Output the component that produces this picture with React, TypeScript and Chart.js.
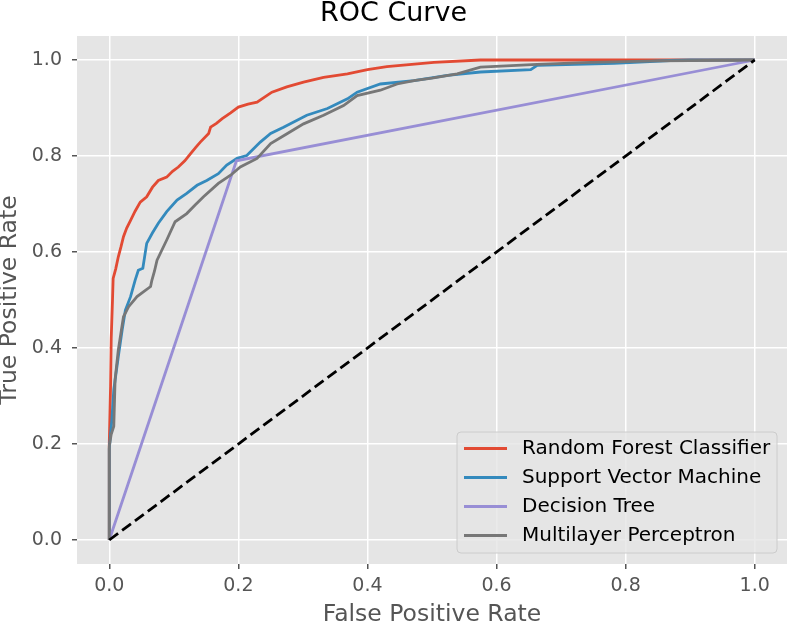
import React, { useEffect, useRef } from "react";
import { Chart, registerables } from "chart.js";

Chart.register(...registerables);

const tickValues = [0, 0.2, 0.4, 0.6, 0.8, 1.0];

const seriesNames = [
  "Random Forest Classifier",
  "Support Vector Machine",
  "Decision Tree",
  "Multilayer Perceptron",
];
const seriesColors = ["#E24A33", "#348ABD", "#988ED5", "#777777"];

const rfFpr = [0, 0, 0.002, 0.003, 0.005, 0.006, 0.01, 0.014, 0.018, 0.022, 0.027, 0.033, 0.04, 0.048, 0.058, 0.067, 0.076, 0.089, 0.098, 0.107, 0.117, 0.126, 0.134, 0.141, 0.154, 0.157, 0.166, 0.175, 0.188, 0.2, 0.215, 0.229, 0.24, 0.252, 0.275, 0.301, 0.332, 0.369, 0.4, 0.43, 0.503, 0.575, 1.0];
const rfTpr = [0, 0.2, 0.32, 0.42, 0.5, 0.545, 0.565, 0.59, 0.61, 0.632, 0.65, 0.666, 0.685, 0.704, 0.715, 0.735, 0.749, 0.756, 0.768, 0.777, 0.79, 0.805, 0.818, 0.829, 0.847, 0.86, 0.868, 0.878, 0.89, 0.902, 0.908, 0.912, 0.922, 0.933, 0.944, 0.954, 0.964, 0.971, 0.98, 0.986, 0.995, 1.0, 1.0];

const svmFpr = [0, 0, 0.004, 0.007, 0.014, 0.02, 0.025, 0.033, 0.04, 0.045, 0.052, 0.058, 0.067, 0.076, 0.089, 0.105, 0.12, 0.136, 0.151, 0.169, 0.182, 0.198, 0.213, 0.234, 0.25, 0.27, 0.306, 0.338, 0.369, 0.384, 0.42, 0.472, 0.524, 0.575, 0.653, 0.663, 0.782, 0.869, 0.9, 1.0];
const svmTpr = [0, 0.19, 0.25, 0.313, 0.382, 0.438, 0.479, 0.507, 0.541, 0.562, 0.566, 0.618, 0.64, 0.66, 0.684, 0.708, 0.722, 0.739, 0.749, 0.763, 0.781, 0.795, 0.801, 0.829, 0.847, 0.86, 0.885, 0.899, 0.919, 0.933, 0.95, 0.957, 0.968, 0.975, 0.98, 0.989, 0.993, 0.999, 1.0, 1.0];

const dtFpr = [0, 0.197, 1.0];
const dtTpr = [0, 0.79, 1.0];

const mlpFpr = [0, 0, 0.003, 0.007, 0.009, 0.014, 0.022, 0.03, 0.043, 0.064, 0.066, 0.07, 0.074, 0.089, 0.102, 0.12, 0.133, 0.146, 0.169, 0.188, 0.203, 0.229, 0.25, 0.276, 0.301, 0.332, 0.363, 0.384, 0.42, 0.446, 0.472, 0.5, 0.539, 0.575, 0.663, 0.746, 0.85, 1.0];
const mlpTpr = [0, 0.195, 0.22, 0.237, 0.334, 0.396, 0.465, 0.486, 0.507, 0.528, 0.541, 0.56, 0.583, 0.625, 0.663, 0.68, 0.698, 0.715, 0.743, 0.76, 0.777, 0.795, 0.826, 0.847, 0.867, 0.885, 0.905, 0.926, 0.937, 0.95, 0.957, 0.962, 0.971, 0.985, 0.991, 0.995, 0.998, 1.0];

const chanceFpr = [0, 1];
const chanceTpr = [0, 1];

const FONT = "'DejaVu Sans', sans-serif";

const toPoints = (xs: number[], ys: number[]) => xs.map((x, i) => ({ x, y: ys[i] }));

const bgPlugin = {
  id: "plotBg",
  beforeDraw(chart: any) {
    const { ctx, chartArea } = chart;
    ctx.save();
    ctx.fillStyle = "#E5E5E5";
    ctx.fillRect(chartArea.left, chartArea.top, chartArea.right - chartArea.left, chartArea.bottom - chartArea.top);
    ctx.restore();
  },
};

const legendPlugin = {
  id: "boxLegend",
  afterDraw(chart: any) {
    const { ctx, chartArea } = chart;
    const x0 = chartArea.right - 330;
    const y0 = chartArea.bottom - 132;
    const w = 320;
    const h = 121;
    ctx.save();
    ctx.beginPath();
    const r = 4;
    ctx.moveTo(x0 + r, y0);
    ctx.lineTo(x0 + w - r, y0);
    ctx.arcTo(x0 + w, y0, x0 + w, y0 + r, r);
    ctx.lineTo(x0 + w, y0 + h - r);
    ctx.arcTo(x0 + w, y0 + h, x0 + w - r, y0 + h, r);
    ctx.lineTo(x0 + r, y0 + h);
    ctx.arcTo(x0, y0 + h, x0, y0 + h - r, r);
    ctx.lineTo(x0, y0 + r);
    ctx.arcTo(x0, y0, x0 + r, y0, r);
    ctx.closePath();
    ctx.fillStyle = "rgba(229,229,229,0.8)";
    ctx.fill();
    ctx.strokeStyle = "#CCCCCC";
    ctx.lineWidth = 1;
    ctx.stroke();
    ctx.font = `20px ${FONT}`;
    ctx.textBaseline = "middle";
    ctx.textAlign = "left";
    seriesNames.forEach((name, i) => {
      const cy = y0 + 16.5 + i * 29;
      ctx.strokeStyle = seriesColors[i];
      ctx.lineWidth = 2.8;
      ctx.beginPath();
      ctx.moveTo(x0 + 7, cy);
      ctx.lineTo(x0 + 50, cy);
      ctx.stroke();
      ctx.fillStyle = "#000000";
      ctx.fillText(name, x0 + 65, cy);
    });
    ctx.restore();
  },
};

export default function App() {
  const canvasRef = useRef<HTMLCanvasElement | null>(null);

  useEffect(() => {
    document.body.style.margin = "0";
    const canvas = canvasRef.current;
    if (!canvas) return;
    const lineDs = (i: number, xs: number[], ys: number[], order: number) => ({
      label: seriesNames[i],
      data: toPoints(xs, ys),
      borderColor: seriesColors[i],
      backgroundColor: seriesColors[i],
      borderWidth: 2.8,
      pointRadius: 0,
      tension: 0,
      fill: false,
      order,
    });
    const chart = new Chart(canvas, {
      type: "line",
      data: {
        datasets: [
          lineDs(0, rfFpr, rfTpr, 4),
          lineDs(1, svmFpr, svmTpr, 3),
          lineDs(2, dtFpr, dtTpr, 2),
          lineDs(3, mlpFpr, mlpTpr, 1),
          {
            label: "chance",
            data: toPoints(chanceFpr, chanceTpr),
            borderColor: "#000000",
            backgroundColor: "#000000",
            borderWidth: 2.8,
            borderDash: [11, 5],
            pointRadius: 0,
            tension: 0,
            fill: false,
            order: 0,
          },
        ],
      },
      options: {
        responsive: false,
        animation: false,
        layout: { padding: 0 },
        plugins: {
          legend: { display: false },
          tooltip: { enabled: false },
          title: {
            display: true,
            text: "ROC Curve",
            color: "#000000",
            font: { family: FONT, size: 27, weight: "normal", lineHeight: 1 },
            padding: { top: 0, bottom: 9 },
          },
        },
        scales: {
          x: {
            type: "linear",
            min: -0.05,
            max: 1.05,
            afterBuildTicks: (scale: any) => {
              scale.ticks = tickValues.map((v) => ({ value: v }));
            },
            afterFit: (scale: any) => {
              scale.height = 60;
            },
            border: { display: false },
            grid: {
              color: "#FFFFFF",
              lineWidth: 1.5,
              drawTicks: true,
              tickLength: 5,
              tickColor: "#555555",
              tickWidth: 1.5,
            },
            ticks: {
              color: "#555555",
              font: { family: FONT, size: 19 },
              padding: 6,
              maxRotation: 0,
              callback: (v: any) => Number(v).toFixed(1),
            },
            title: {
              display: true,
              text: "False Positive Rate",
              color: "#555555",
              font: { family: FONT, size: 23.5, lineHeight: 0.8 },
              padding: 0,
            },
          },
          y: {
            type: "linear",
            min: -0.05,
            max: 1.05,
            afterBuildTicks: (scale: any) => {
              scale.ticks = tickValues.map((v) => ({ value: v }));
            },
            afterFit: (scale: any) => {
              scale.width = 77;
            },
            border: { display: false },
            grid: {
              color: "#FFFFFF",
              lineWidth: 1.5,
              drawTicks: true,
              tickLength: 5,
              tickColor: "#555555",
              tickWidth: 1.5,
            },
            ticks: {
              color: "#555555",
              font: { family: FONT, size: 19 },
              padding: 10,
              callback: (v: any) => Number(v).toFixed(1),
            },
            title: {
              display: true,
              text: "True Positive Rate",
              color: "#555555",
              font: { family: FONT, size: 23.5, lineHeight: 0.8 },
              padding: 0,
            },
          },
        },
      },
      plugins: [bgPlugin, legendPlugin],
    });
    return () => chart.destroy();
  }, []);

  return (
    <div style={{ width: 787, height: 624 }}>
      <canvas ref={canvasRef} width={787} height={624} />
    </div>
  );
}
